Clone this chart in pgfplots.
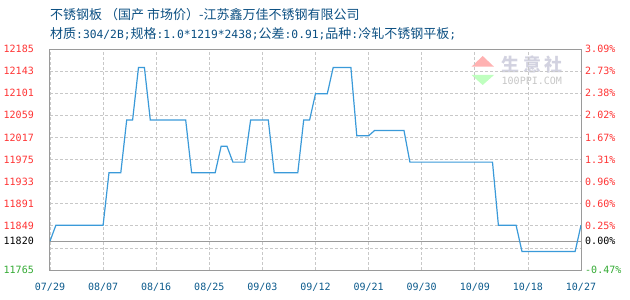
\documentclass[border=0pt]{standalone}
\usepackage{fontspec}
\usepackage{pgfplots}
\pgfplotsset{compat=1.18}
\setmainfont{DejaVu Sans}
\newfontfamily\cjk{Noto Sans CJK SC}
\newfontfamily\mono{DejaVu Sans Mono}
\definecolor{titleblue}{HTML}{0B4F82}
\definecolor{lineblue}{HTML}{3A9AD9}
\definecolor{gridgray}{HTML}{C8C8C8}
\definecolor{framegray}{HTML}{9A9A9A}
\definecolor{tickred}{HTML}{FF3333}
\definecolor{tickgreen}{HTML}{33AA33}
\definecolor{datecol}{HTML}{0B5A8C}

\newcommand{\asc}[1]{{\mono\fontsize{11.3bp}{12bp}\selectfont #1}}

\pgfplotsset{
  priceframe/.style={
    at={(50bp,30bp)}, anchor=south west,
    scale only axis, width=531bp, height=221bp,
    xmin=0, xmax=90, ymin=11765, ymax=12185,
    scaled y ticks=false, scaled x ticks=false,
    major tick length=0pt,
    tick label style={font=\mono\fontsize{10bp}{12bp}\selectfont},
  },
}

\begin{document}
\begin{tikzpicture}
\path[use as bounding box] (0,0) rectangle (630bp,300bp);

% title lines
\node[anchor=base west, inner sep=0pt, text=titleblue,
      font=\cjk\fontsize{13bp}{15bp}\selectfont] at (50bp,280bp)
  {不锈钢板 （国产 市场价）-江苏鑫万佳不锈钢有限公司};
\node[anchor=base west, inner sep=0pt, text=titleblue,
      font=\cjk\fontsize{13bp}{15bp}\selectfont] at (50bp,261bp)
  {材质\asc{:304/2B;}规格\asc{:1.0*1219*2438;}公差\asc{:0.91;}品种\asc{:}冷轧不锈钢平板\asc{;}};

% watermark
\fill[red!30!white] (482.7bp,244bp) -- (494bp,233.3bp) -- (471.5bp,233.3bp) -- cycle;
\fill[green!25!white] (471.5bp,225bp) -- (494bp,225bp) -- (482.7bp,215bp) -- cycle;
\node[anchor=west, inner sep=0pt, text=blue!18!gray!30!white,
      font=\cjk\bfseries\fontsize{18bp}{20bp}\selectfont] at (501.5bp,235bp) {生\hspace{3.5bp}意\hspace{3.5bp}社};
\node[anchor=west, inner sep=0pt, text=gray!45!white,
      font=\mono\fontsize{10bp}{12bp}\selectfont] at (501.5bp,219.5bp) {100PPI.COM};

% left scale with prices and the price curve
\begin{axis}[priceframe,
  axis line style={framegray, line width=1bp},
  xtick={0,9,...,90},
  xticklabels={07/29,08/07,08/16,08/25,09/03,09/12,09/21,09/30,10/09,10/18,10/27},
  xticklabel style={text=datecol, anchor=north, inner sep=0pt, yshift=-13bp},
  ytick={11765,11807,11849,11891,11933,11975,12017,12059,12101,12143,12185},
  yticklabels={\textcolor{tickgreen}{11765},{},\textcolor{tickred}{11849},
    \textcolor{tickred}{11891},\textcolor{tickred}{11933},\textcolor{tickred}{11975},
    \textcolor{tickred}{12017},\textcolor{tickred}{12059},\textcolor{tickred}{12101},
    \textcolor{tickred}{12143},\textcolor{tickred}{12185}},
  yticklabel style={anchor=east, inner sep=0pt, xshift=-16bp},
  extra y ticks={11820},
  extra y tick labels={11820},
  extra y tick style={grid=major, major grid style={solid, framegray, line width=1bp},
    yticklabel style={text=black}},
  grid=major,
  major grid style={gridgray, line width=0.8bp, dash pattern=on 3bp off 2bp},
]
\addplot[lineblue, line width=1.2bp] coordinates {
  (0,11820)(1,11850)(2,11850)(3,11850)(4,11850)(5,11850)(6,11850)(7,11850)
  (8,11850)(9,11850)(10,11950)(11,11950)(12,11950)(13,12050)(14,12050)
  (15,12150)(16,12150)(17,12050)(18,12050)(19,12050)(20,12050)(21,12050)
  (22,12050)(23,12050)(24,11950)(25,11950)(26,11950)(27,11950)(28,11950)
  (29,12000)(30,12000)(31,11970)(32,11970)(33,11970)(34,12050)(35,12050)
  (36,12050)(37,12050)(38,11950)(39,11950)(40,11950)(41,11950)(42,11950)
  (43,12050)(44,12050)(45,12100)(46,12100)(47,12100)(48,12150)(49,12150)
  (50,12150)(51,12150)(52,12020)(53,12020)(54,12020)(55,12030)(56,12030)
  (57,12030)(58,12030)(59,12030)(60,12030)(61,11970)(62,11970)(63,11970)
  (64,11970)(65,11970)(66,11970)(67,11970)(68,11970)(69,11970)(70,11970)
  (71,11970)(72,11970)(73,11970)(74,11970)(75,11970)(76,11850)(77,11850)
  (78,11850)(79,11850)(80,11800)(81,11800)(82,11800)(83,11800)(84,11800)
  (85,11800)(86,11800)(87,11800)(88,11800)(89,11800)(90,11850)
};
\end{axis}

% right scale: change relative to 11820
\begin{axis}[priceframe,
  axis x line=none,
  axis y line*=right,
  axis line style={framegray, line width=1bp},
  ytick={11765,11807,11849,11891,11933,11975,12017,12059,12101,12143,12185},
  yticklabels={\textcolor{tickgreen}{-0.47\%},{},\textcolor{tickred}{0.25\%},
    \textcolor{tickred}{0.60\%},\textcolor{tickred}{0.96\%},\textcolor{tickred}{1.31\%},
    \textcolor{tickred}{1.67\%},\textcolor{tickred}{2.02\%},\textcolor{tickred}{2.38\%},
    \textcolor{tickred}{2.73\%},\textcolor{tickred}{3.09\%}},
  yticklabel style={anchor=west, inner sep=0pt, xshift=4bp},
  extra y ticks={11820},
  extra y tick labels={0.00\%},
  extra y tick style={yticklabel style={text=black}},
]
\end{axis}
\end{tikzpicture}
\end{document}
